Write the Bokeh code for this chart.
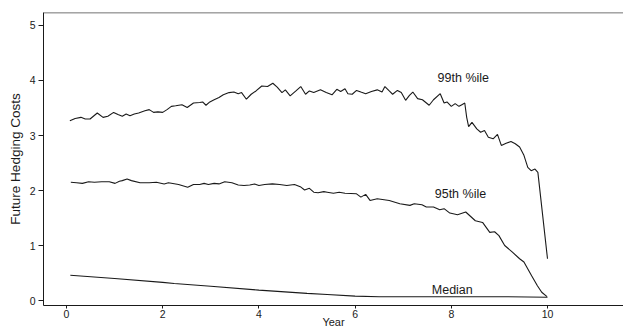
from bokeh.plotting import figure
from bokeh.models import Range1d, Span, Label, FixedTicker
from bokeh.embed import file_html
from bokeh.resources import INLINE

# ---- data ----
year_99 = [0.07, 0.18, 0.30, 0.39, 0.49, 0.64, 0.76, 0.86, 0.98, 1.07,
           1.16, 1.24, 1.32, 1.41, 1.50, 1.63, 1.72, 1.81, 1.90, 2.00,
           2.09, 2.18, 2.27, 2.40, 2.51, 2.64, 2.77, 2.83, 2.90, 2.98,
           3.07, 3.17, 3.26, 3.38, 3.48, 3.57, 3.64, 3.74, 3.84, 3.94,
           4.06, 4.18, 4.29, 4.38, 4.48, 4.55, 4.65, 4.77, 4.87, 4.97,
           5.05, 5.14, 5.28, 5.40, 5.52, 5.62, 5.70, 5.79, 5.85, 5.94,
           6.03, 6.12, 6.22, 6.34, 6.46, 6.56, 6.62, 6.71, 6.78, 6.88,
           6.96, 7.05, 7.13, 7.20, 7.30, 7.40, 7.54, 7.63, 7.77, 7.85,
           7.91, 8.00, 8.08, 8.16, 8.22, 8.28, 8.32, 8.36, 8.43, 8.53,
           8.61, 8.69, 8.77, 8.87, 8.96, 9.04, 9.14, 9.24, 9.33, 9.42,
           9.51, 9.59, 9.66, 9.74, 9.80, 10.00]
pct_99 = [3.27, 3.31, 3.33, 3.30, 3.30, 3.41, 3.33, 3.35, 3.42, 3.38,
          3.35, 3.39, 3.36, 3.39, 3.41, 3.45, 3.47, 3.42, 3.43, 3.42,
          3.47, 3.53, 3.54, 3.56, 3.51, 3.59, 3.60, 3.61, 3.55, 3.61,
          3.65, 3.69, 3.74, 3.78, 3.79, 3.76, 3.78, 3.66, 3.75, 3.81,
          3.90, 3.89, 3.95, 3.88, 3.78, 3.83, 3.72, 3.81, 3.89, 3.75,
          3.81, 3.78, 3.83, 3.78, 3.74, 3.84, 3.80, 3.85, 3.76, 3.75,
          3.82, 3.79, 3.76, 3.80, 3.83, 3.79, 3.89, 3.81, 3.75, 3.82,
          3.78, 3.64, 3.73, 3.79, 3.67, 3.65, 3.55, 3.65, 3.76, 3.59,
          3.61, 3.53, 3.58, 3.53, 3.56, 3.59, 3.33, 3.16, 3.24, 3.12,
          3.06, 3.09, 2.97, 2.94, 3.02, 2.82, 2.86, 2.89, 2.85, 2.79,
          2.64, 2.42, 2.36, 2.39, 2.33, 0.76]

year_95 = [0.09, 0.21, 0.33, 0.46, 0.58, 0.73, 0.89, 1.01, 1.10, 1.16,
           1.26, 1.35, 1.53, 1.72, 1.87, 2.03, 2.12, 2.33, 2.52, 2.64,
           2.77, 2.86, 2.95, 3.07, 3.17, 3.29, 3.44, 3.57, 3.69, 3.81,
           3.91, 4.00, 4.12, 4.28, 4.43, 4.58, 4.74, 4.86, 4.95, 5.05,
           5.14, 5.23, 5.35, 5.42, 5.55, 5.67, 5.79, 6.03, 6.12, 6.22,
           6.31, 6.46, 6.71, 6.93, 7.14, 7.23, 7.39, 7.48, 7.63, 7.76,
           7.85, 7.97, 8.13, 8.30, 8.50, 8.65, 8.80, 8.90, 8.99, 9.11,
           9.27, 9.42, 9.51, 9.67, 9.79, 9.88, 9.99]
pct_95 = [2.15, 2.14, 2.13, 2.16, 2.15, 2.16, 2.16, 2.13, 2.17, 2.18,
          2.21, 2.18, 2.14, 2.14, 2.15, 2.12, 2.14, 2.11, 2.06, 2.11,
          2.11, 2.13, 2.11, 2.13, 2.12, 2.16, 2.14, 2.10, 2.09, 2.10,
          2.12, 2.09, 2.11, 2.12, 2.11, 2.09, 2.11, 2.07, 2.01, 2.04,
          1.97, 1.96, 1.98, 1.97, 1.95, 1.97, 1.95, 1.94, 1.88, 1.93,
          1.82, 1.85, 1.82, 1.76, 1.73, 1.76, 1.74, 1.70, 1.70, 1.65,
          1.67, 1.59, 1.56, 1.61, 1.45, 1.42, 1.24, 1.25, 1.18, 1.00,
          0.88, 0.76, 0.70, 0.45, 0.27, 0.15, 0.07]

year_med = [0.08, 1.00, 2.00, 2.24, 3.00, 4.00, 5.00, 5.42, 6.00, 6.50,
            7.00, 8.00, 9.00, 10.00]
pct_med = [0.46, 0.40, 0.33, 0.31, 0.26, 0.19, 0.13, 0.11, 0.08, 0.07,
           0.07, 0.07, 0.07, 0.06]

x_ticks = [0, 2, 4, 6, 8, 10]
y_ticks = [0, 1, 2, 3, 4, 5]

series_labels = ["99th %ile", "95th %ile", "Median"]
label_x = [8.25, 8.19, 8.02]
label_y = [4.04, 1.93, 0.20]

INK = "#1a1a1a"
FONT = "Liberation Sans"

p = figure(width=623, height=330, output_backend="svg", toolbar_location=None,
           x_range=Range1d(-0.478, 11.58), y_range=Range1d(-0.09, 5.236),
           min_border_left=43, min_border_right=0, min_border_top=12,
           min_border_bottom=0)
p.background_fill_color = "white"
p.border_fill_color = "white"
p.outline_line_color = None
p.xgrid.visible = False
p.ygrid.visible = False

for xs, ys in [(year_99, pct_99), (year_95, pct_95), (year_med, pct_med)]:
    p.line(xs, ys, line_color=INK, line_width=1.1)

for txt, lx, ly in zip(series_labels, label_x, label_y):
    p.add_layout(Label(x=lx, y=ly, text=txt, text_align="center",
                       text_baseline="middle", text_font=FONT,
                       text_font_size="12.5px", text_color=INK))

# top border line of the frame
p.add_layout(Span(location=5.232, dimension="width", line_color=INK,
                  line_width=1))

for ax in (p.xaxis, p.yaxis):
    ax.axis_line_color = INK
    ax.axis_line_width = 1
    ax.major_tick_line_color = INK
    ax.major_tick_in = 0
    ax.minor_tick_line_color = None
    ax.major_label_text_font = FONT
    ax.major_label_text_color = INK
    ax.axis_label_text_font = FONT
    ax.axis_label_text_color = INK
    ax.axis_label_text_font_style = "normal"

p.xaxis.ticker = FixedTicker(ticks=x_ticks)
p.yaxis.ticker = FixedTicker(ticks=y_ticks)
p.xaxis.major_tick_out = 3
p.yaxis.major_tick_out = 5
p.xaxis.major_label_standoff = 1
p.yaxis.major_label_standoff = 3
p.xaxis.major_label_text_font_size = "10.5px"
p.yaxis.major_label_text_font_size = "10.5px"
p.xaxis.axis_label = "Year"
p.xaxis.axis_label_text_font_size = "11px"
p.xaxis.axis_label_standoff = -5
p.yaxis.axis_label = "Future Hedging Costs"
p.yaxis.axis_label_text_font_size = "13.5px"
p.yaxis.axis_label_standoff = 4

open("out.html", "w").write(file_html(p, INLINE))
